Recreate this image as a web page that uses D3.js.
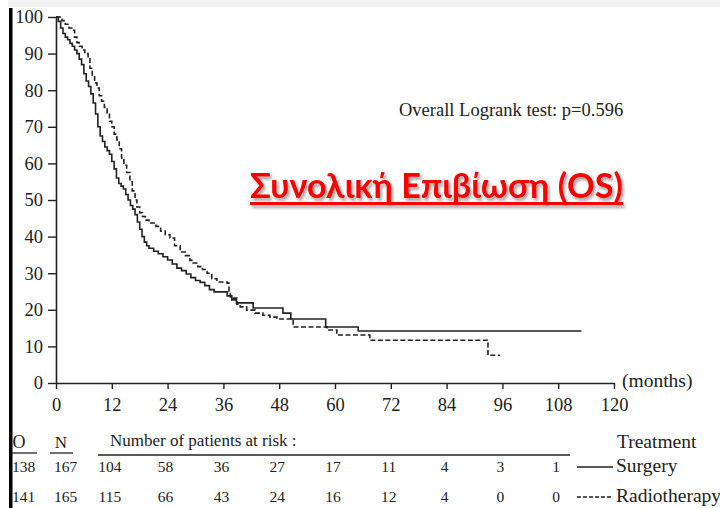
<!DOCTYPE html>
<html>
<head>
<meta charset="utf-8">
<script src="https://cdn.jsdelivr.net/npm/d3@7"></script>
<style>
  html, body { margin: 0; padding: 0; background: #fff; }
  svg { display: block; }
</style>
</head>
<body>
<svg id="chart" width="720" height="508"></svg>
<script>
// ---------------- data ----------------
const yTicks = [0, 10, 20, 30, 40, 50, 60, 70, 80, 90, 100];
const xTicks = [0, 12, 24, 36, 48, 60, 72, 84, 96, 108, 120];

// Surgery (solid) Kaplan–Meier steps
const surgeryTime = [0, 0.5, 1, 1.5, 2, 2.5, 3, 3.5, 4, 4.5, 5, 5.5, 6, 6.5, 7, 7.5, 8, 8.5, 9, 9.5, 10, 10.5, 11, 11.5, 12, 12.5, 13, 13.5, 14, 14.5, 15, 15.5, 16, 16.5, 17, 17.5, 18, 18.5, 19, 19.5, 20, 21, 22, 23, 24, 25, 26, 27, 28, 29, 30, 31, 32, 33, 34, 36.8, 37.8, 38.8, 42.4, 48.8, 50.5, 58, 65, 113];
const surgerySurv = [100, 98.8, 97, 95.5, 94.5, 93.8, 92.8, 92, 91, 90, 88.5, 87, 84.5, 82.5, 81, 79, 76.5, 73.5, 70, 67.5, 66, 64.5, 63.5, 62.5, 60.5, 58.5, 56, 54.5, 53.8, 53, 51.5, 50, 48.5, 47.5, 46, 44, 42, 40, 38.5, 37.5, 36.8, 36, 35.3, 34.5, 33.6, 32.5, 31.4, 30.7, 29.8, 28.8, 28, 27.5, 26.6, 25.5, 24.9, 23.8, 22.7, 21.9, 20.5, 19.1, 17.5, 15.3, 14.2, 14.2];

// Radiotherapy (dashed) Kaplan–Meier steps
const radioTime = [0, 1.3, 2, 2.8, 3.4, 4, 4.5, 5, 5.6, 6.2, 6.9, 7.3, 7.8, 8.3, 8.8, 9.3, 9.8, 10.4, 11, 11.5, 12, 12.5, 13.1, 13.6, 14.1, 14.6, 15.2, 15.9, 16.4, 17, 17.4, 18, 18.6, 19.2, 20, 21.5, 22.5, 23.5, 24.5, 25.5, 26.7, 27.8, 28.8, 29.5, 30.5, 31.5, 32.5, 33.5, 34.6, 36.8, 37.2, 37.5, 38.9, 39.6, 41, 42.8, 44.5, 46, 47.5, 51, 58.3, 60.4, 67.5, 92.9, 95.5];
const radioSurv = [100, 99, 98, 97, 96.4, 94.5, 93, 92, 91, 90, 88.8, 86, 84, 82, 80.6, 78.5, 77, 75.3, 73.8, 71.5, 70, 68, 66.4, 64, 61.5, 59.5, 57.5, 55, 52.5, 50, 48.1, 46.5, 45.5, 44.5, 43.7, 42.8, 41.5, 40.5, 39.6, 37.5, 35.8, 34.8, 33.5, 32.8, 31.8, 31, 30, 28.5, 27.6, 27.3, 25, 23.2, 21.5, 20.8, 19.9, 19.1, 18.5, 18, 17.5, 15.3, 14.5, 13.1, 11.7, 7.6, 7.6];

// Risk table
const riskMonths = [12, 24, 36, 48, 60, 72, 84, 96, 108];
const surgeryRisk = [104, 58, 36, 27, 17, 11, 4, 3, 1];
const radioRisk = [115, 66, 43, 24, 16, 12, 4, 0, 0];
const groupNames = ["Surgery", "Radiotherapy"];
const groupO = [138, 141];
const groupN = [167, 165];

const titleText = "Συνολική Επιβίωση (OS)";
const pText = "Overall Logrank test: p=0.596";

// ---------------- drawing ----------------
const svg = d3.select("#chart");
const serif = "'Liberation Serif', 'DejaVu Serif', serif";
const ink = "#222";

// slide decorations
svg.append("rect").attr("x", 8).attr("y", 0).attr("width", 712).attr("height", 7).attr("fill", "#f3f3f3");
svg.append("rect").attr("x", 9).attr("y", 8).attr("width", 3.5).attr("height", 500).attr("fill", "#000");

const x = d3.scaleLinear().domain([0, 120]).range([56, 614]);
const y = d3.scaleLinear().domain([0, 100]).range([383, 17]);

// y axis
const gy = svg.append("g").attr("transform", `translate(${x(0)},0)`)
  .call(d3.axisLeft(y).tickValues(yTicks).tickSize(8).tickSizeOuter(0).tickPadding(5));
// x axis
const gx = svg.append("g").attr("transform", `translate(0,${y(0)})`)
  .call(d3.axisBottom(x).tickValues(xTicks).tickSize(6).tickSizeOuter(0).tickPadding(9));
[gx, gy].forEach(g => {
  g.select(".domain").attr("stroke", ink).attr("stroke-width", 1.6);
  g.selectAll(".tick line").attr("stroke", ink).attr("stroke-width", 1.4);
  g.selectAll(".tick text").attr("fill", ink).style("font-family", serif).style("font-size", "18.5px");
});

svg.append("text").attr("x", 622).attr("y", 387).attr("fill", ink)
  .style("font-family", serif).style("font-size", "19.5px").text("(months)");

// curves
const line = d3.line().curve(d3.curveStepAfter).x(d => x(d[0])).y(d => y(d[1]));
const surgeryData = surgeryTime.map((t, i) => [t, surgerySurv[i]]);
const radioData = radioTime.map((t, i) => [t, radioSurv[i]]);

svg.append("path").datum(surgeryData).attr("d", line)
  .attr("fill", "none").attr("stroke", ink).attr("stroke-width", 1.6);
svg.append("path").datum(radioData).attr("d", line)
  .attr("fill", "none").attr("stroke", ink).attr("stroke-width", 1.6)
  .attr("stroke-dasharray", "5,2.5");

// logrank text
svg.append("text").attr("x", 399).attr("y", 116).attr("fill", ink)
  .style("font-family", serif).style("font-size", "18.5px").text(pText);

// title with shadow
const defs = svg.append("defs");
const f = defs.append("filter").attr("id", "shadow").attr("x", "-10%").attr("y", "-30%").attr("width", "120%").attr("height", "160%");
f.append("feDropShadow").attr("dx", 2).attr("dy", 3).attr("stdDeviation", 1.8)
  .attr("flood-color", "#000").attr("flood-opacity", 0.35);

const tg = svg.append("g").attr("filter", "url(#shadow)");
const title = tg.append("text").attr("x", 250).attr("y", 198).attr("fill", "#f00")
  .style("font-family", "Lato, 'Open Sans', 'Noto Sans', sans-serif").style("font-weight", "bold")
  .style("font-size", "32px").text(titleText);
const targetW = 373;
const w0 = title.node().getComputedTextLength();
title.style("font-size", (32 * targetW / w0).toFixed(2) + "px");
tg.append("rect").attr("x", 250).attr("y", 202).attr("width", targetW).attr("height", 3).attr("fill", "#f00");

// risk table
const tableFont = "15.5px";
svg.append("text").attr("x", 19).attr("y", 448).attr("text-anchor", "middle").attr("fill", ink)
  .style("font-family", serif).style("font-size", "18px").text("O");
svg.append("line").attr("x1", 12).attr("x2", 37).attr("y1", 453).attr("y2", 453).attr("stroke", ink).attr("stroke-width", 1.3);
svg.append("text").attr("x", 61).attr("y", 448).attr("text-anchor", "middle").attr("fill", ink)
  .style("font-family", serif).style("font-size", "17px").text("N");
svg.append("line").attr("x1", 50).attr("x2", 73).attr("y1", 453).attr("y2", 453).attr("stroke", ink).attr("stroke-width", 1.3);

svg.append("text").attr("x", 110).attr("y", 446).attr("fill", ink)
  .style("font-family", serif).style("font-size", "17px").text("Number of patients at risk :");
svg.append("line").attr("x1", 98).attr("x2", 570).attr("y1", 455).attr("y2", 455).attr("stroke", ink).attr("stroke-width", 1.5);

const rows = [surgeryRisk, radioRisk];
const rowY = [472, 502];
rows.forEach((vals, r) => {
  svg.append("text").attr("x", 12).attr("y", rowY[r]).attr("fill", ink)
    .style("font-family", serif).style("font-size", tableFont).text(groupO[r]);
  svg.append("text").attr("x", 54).attr("y", rowY[r]).attr("fill", ink)
    .style("font-family", serif).style("font-size", tableFont).text(groupN[r]);
  svg.selectAll(null).data(vals).enter().append("text")
    .attr("x", (d, i) => x(riskMonths[i]) - 2).attr("y", rowY[r]).attr("text-anchor", "middle")
    .attr("fill", ink).style("font-family", serif).style("font-size", tableFont).text(d => d);
});

// legend
svg.append("text").attr("x", 617).attr("y", 448).attr("fill", ink)
  .style("font-family", serif).style("font-size", "19.5px").text("Treatment");
rowY.forEach((ry, r) => {
  svg.append("line").attr("x1", 577).attr("x2", 613).attr("y1", ry - 5).attr("y2", ry - 5)
    .attr("stroke", ink).attr("stroke-width", 1.4)
    .attr("stroke-dasharray", r === 1 ? "4,2" : null);
  svg.append("text").attr("x", 616).attr("y", ry).attr("fill", ink)
    .style("font-family", serif).style("font-size", "19.5px").text(groupNames[r]);
});
</script>
</body>
</html>
